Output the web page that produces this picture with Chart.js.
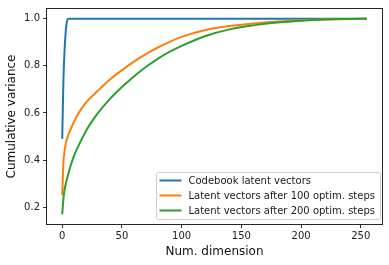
<!DOCTYPE html>
<html lang="en">
<head>
    <meta charset="UTF-8">
    <title>Cumulative variance</title>
    <script src="https://cdn.jsdelivr.net/npm/chart.js"></script>
    <style>
        body { margin: 0; background: #fff; }
    </style>
</head>
<body>
<canvas id="chart" width="389" height="265"></canvas>

<script>
    // values
    const codebookDims = [0, 1, 2, 3, 4, 5, 255];
    const codebookVar = [0.49, 0.74, 0.87, 0.95, 0.99, 1.0, 1.0];

    const latentDims = [0, 1, 2, 3, 5, 7, 10, 15, 20, 30, 40, 50, 60, 70, 80, 90, 100, 120, 140, 160, 180, 200, 220, 240, 255];
    const after100Var = [0.25, 0.39, 0.44, 0.47, 0.505, 0.53, 0.565, 0.61, 0.645, 0.695, 0.742, 0.782, 0.818, 0.85, 0.878, 0.902, 0.923, 0.952, 0.969, 0.98, 0.988, 0.994, 0.997, 0.999, 1.0];
    const after200Var = [0.17, 0.235, 0.275, 0.30, 0.34, 0.375, 0.42, 0.475, 0.525, 0.60, 0.66, 0.71, 0.755, 0.795, 0.83, 0.86, 0.885, 0.927, 0.955, 0.972, 0.984, 0.992, 0.997, 0.999, 1.0];

    const seriesLabels = [
        "Codebook latent vectors",
        "Latent vectors after 100 optim. steps",
        "Latent vectors after 200 optim. steps"
    ];

    const xTicks = [0, 50, 100, 150, 200, 250];
    const yTicks = [0.2, 0.4, 0.6, 0.8, 1.0];

    const pts = (xs, ys) => xs.map((xi, i) => ({ x: xi, y: ys[i] }));

    // box around the plot like matplotlib spines
    const frame = {
        id: "frame",
        afterDatasetsDraw(chart) {
            const { ctx, chartArea: a } = chart;
            ctx.save();
            ctx.strokeStyle = "#262626";
            ctx.lineWidth = 1;
            ctx.strokeRect(Math.round(a.left) - 0.5, Math.round(a.top) - 0.5,
                Math.round(a.right - a.left) + 1, Math.round(a.bottom - a.top) + 1);
            ctx.restore();
        }
    };

    // legend in the lower right corner of the plot
    const boxLegend = {
        id: "boxLegend",
        afterDraw(chart) {
            const { ctx, chartArea: a } = chart;
            const sets = chart.data.datasets;
            ctx.save();
            ctx.font = "10px 'DejaVu Sans'";
            let tw = 0;
            sets.forEach(d => { tw = Math.max(tw, ctx.measureText(d.label).width); });
            const w = 3.5 + 22 + 7 + tw + 5;
            const h = 47;
            const right = a.right - 2;
            const bottom = a.bottom - 5;
            const left = right - w, top = bottom - h;
            ctx.beginPath();
            ctx.roundRect(left + 0.5, top + 0.5, w, h, 2);
            ctx.fillStyle = "rgba(255,255,255,0.8)";
            ctx.fill();
            ctx.strokeStyle = "#cccccc";
            ctx.lineWidth = 1;
            ctx.stroke();
            sets.forEach((d, i) => {
                const y = top + 8.5 + i * 15;
                ctx.beginPath();
                ctx.moveTo(left + 3.5, y);
                ctx.lineTo(left + 25.5, y);
                ctx.strokeStyle = d.borderColor;
                ctx.lineWidth = 2;
                ctx.stroke();
                ctx.fillStyle = "#1a1a1a";
                ctx.textBaseline = "middle";
                ctx.fillText(d.label, left + 32.5, y + 0.5);
            });
            ctx.restore();
        }
    };

    const tickFont = { family: "'DejaVu Sans'", size: 10 };
    const titleFont = { family: "'DejaVu Sans'", size: 12 };

    new Chart(document.getElementById("chart"), {
        type: "line",
        data: {
            datasets: [
                {
                    label: seriesLabels[0],
                    data: pts(codebookDims, codebookVar),
                    borderColor: "#1f77b4",
                    order: 3
                },
                {
                    label: seriesLabels[1],
                    data: pts(latentDims, after100Var),
                    borderColor: "#ff7f0e",
                    order: 2
                },
                {
                    label: seriesLabels[2],
                    data: pts(latentDims, after200Var),
                    borderColor: "#2ca02c",
                    order: 1
                }
            ]
        },
        options: {
            responsive: false,
            animation: false,
            layout: { padding: { top: 6, right: 7, left: 0, bottom: 0 } },
            elements: {
                line: { borderWidth: 2, cubicInterpolationMode: "monotone", fill: false },
                point: { radius: 0 }
            },
            plugins: {
                legend: { display: false },
                tooltip: { enabled: false }
            },
            scales: {
                x: {
                    type: "linear",
                    min: -12.75,
                    max: 267.75,
                    afterFit: s => { s.height = 41; },
                    afterBuildTicks: s => { s.ticks = xTicks.map(v => ({ value: v })); },
                    ticks: { font: tickFont, color: "#222", padding: 2, maxRotation: 0 },
                    grid: { drawOnChartArea: false, tickLength: 4, color: "#333" },
                    border: { display: false },
                    title: { display: true, text: "Num. dimension", font: titleFont, color: "#111", padding: { top: 4, bottom: 6 } }
                },
                y: {
                    min: 0.1285,
                    max: 1.0415,
                    afterFit: s => { s.width = 47; },
                    afterBuildTicks: s => { s.ticks = yTicks.map(v => ({ value: v })); },
                    ticks: { font: tickFont, color: "#222", padding: 3, callback: v => v.toFixed(1) },
                    grid: { drawOnChartArea: false, tickLength: 4, color: "#333" },
                    border: { display: false },
                    title: { display: true, text: "Cumulative variance", font: titleFont, color: "#111", padding: { top: 5, bottom: 4 } }
                }
            }
        },
        plugins: [frame, boxLegend]
    });
</script>
</body>
</html>
